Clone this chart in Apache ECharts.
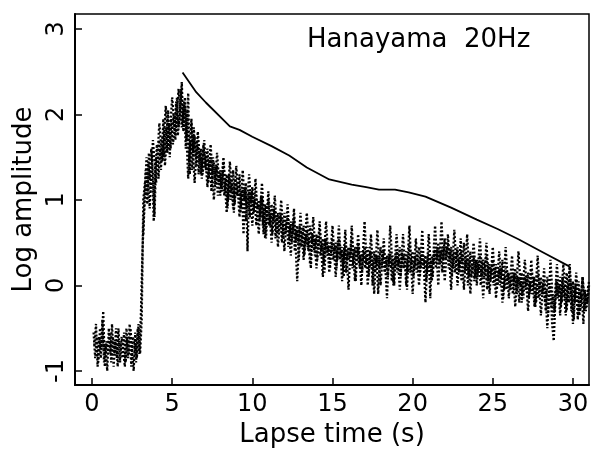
<!DOCTYPE html>
<html><head><meta charset="utf-8">
<script src="https://cdn.jsdelivr.net/npm/echarts@6/dist/echarts.min.js"></script>
<style>html,body{margin:0;padding:0;background:#fff}#c{width:593px;height:457px}</style>
</head><body><div id="c"></div>
<script>
// Coda envelope (solid line)
const modelTime = [5.65, 6.5, 7.1, 8.6, 9.2, 10.0, 11.2, 12.3, 13.4, 14.8, 16.2, 17.1, 17.9, 18.9, 19.75, 20.8, 22.4, 24.0, 25.3, 26.6, 28.2, 29.8];
const modelAmp  = [2.49, 2.26, 2.14, 1.86, 1.82, 1.74, 1.63, 1.52, 1.38, 1.24, 1.18, 1.15, 1.12, 1.12, 1.09, 1.04, 0.91, 0.77, 0.66, 0.54, 0.38, 0.22];
// Observed log amplitude, trace A (dotted), every 0.1 s from 0.1 s
const obsStartA = 0.1, obsStepA = 0.1;
const obsAmpA = [
 -0.55,-0.85,-0.6,-0.9,-0.5,-0.75,-0.3,-0.95,-0.65,-0.8,
 -0.55,-0.9,-0.6,-0.8,-0.5,-0.95,-0.65,-0.7,-0.85,-0.55,
 -0.9,-0.6,-0.8,-0.5,-0.75,-1.0,-0.55,-0.85,-0.45,-0.8,
 -0.4,1.0,1.2,1.05,1.45,1.25,1.6,1.3,0.8,1.5,
 1.4,1.7,1.35,1.75,1.5,1.85,1.55,1.9,1.6,1.8,
 2.0,1.7,2.2,1.85,2.05,2.38,1.8,2.1,1.7,2.25,
 1.3,1.9,1.55,1.75,1.4,1.65,1.45,1.6,1.3,1.55,
 1.35,1.6,1.25,1.5,1.3,1.45,1.15,1.4,1.2,1.35,
 1.1,1.45,1.15,1.3,1.0,1.25,1.1,1.35,0.95,1.2,
 1.05,1.3,0.9,1.15,1.0,1.2,0.4,1.1,0.95,1.15,
 0.85,1.1,0.9,1.0,0.8,1.05,0.6,0.95,0.8,1.0,
 0.7,0.95,0.75,0.9,0.65,0.85,0.7,0.8,0.55,0.85,
 0.65,0.8,0.55,0.75,0.6,0.8,0.5,0.7,0.3,0.65,
 0.55,0.7,0.5,0.65,0.4,0.7,0.5,0.6,0.35,0.6,
 0.45,0.65,0.4,0.55,0.15,0.55,0.4,0.5,0.35,0.55,
 0.4,0.5,0.3,0.55,0.35,0.45,0.1,0.5,0.3,0.45,
 0.35,0.55,0.25,0.45,0.3,0.5,0.2,0.4,0.3,0.45,
 0.25,0.45,0.2,0.4,0.0,0.4,0.25,0.35,0.2,0.45,
 0.3,0.4,0.2,0.35,0.25,0.4,0.05,0.35,0.2,0.4,
 0.25,0.45,0.2,0.35,0.3,0.4,0.15,0.5,0.25,0.4,
 0.2,0.35,0.3,0.45,0.2,0.4,0.25,0.35,0.15,0.4,
 -0.15,0.35,0.25,0.45,0.3,0.5,0.25,0.45,0.3,0.55,
 0.35,0.5,0.3,0.45,0.2,0.4,0.3,0.45,0.15,0.4,
 0.25,0.5,0.2,0.35,0.1,0.4,0.2,0.35,0.1,0.3,
 0.15,0.35,0.1,0.3,0.2,0.35,0.05,0.25,0.15,0.3,
 0.1,0.25,0.0,0.2,0.1,0.3,-0.05,0.2,0.05,0.15,
 -0.05,0.15,0.05,0.2,-0.1,0.1,0.0,0.15,-0.15,0.1,
 0.0,0.15,-0.1,0.2,-0.05,0.1,-0.2,0.15,-0.05,0.1,
 -0.1,0.05,-0.3,0.1,-0.05,0.0,-0.45,-0.65,-0.2,0.05,
 -0.1,0.1,-0.2,0.0,-0.15,0.15,-0.05,0.25,-0.3,0.05,
 -0.2,0.05,-0.4,-0.05,-0.15,0.1,-0.3,-0.1,-0.2,0.0
];
// Observed log amplitude, trace B (dotted), every 0.1 s from 0.15 s
const obsStartB = 0.15, obsStepB = 0.1;
const obsAmpB = [
 -0.7,-0.45,-0.95,-0.6,-0.85,-0.4,-0.9,-0.7,-1.0,-0.5,
 -0.8,-0.45,-0.95,-0.65,-0.85,-0.5,-0.9,-0.6,-0.75,-0.95,
 -0.5,-0.85,-0.45,-0.95,-0.6,-0.7,-0.9,-0.5,-0.8,-0.35,
 0.4,0.9,1.35,0.95,1.55,1.1,1.4,0.75,1.35,1.65,
 1.25,1.6,1.45,1.95,1.4,1.7,2.05,1.5,1.95,1.65,
 1.85,2.15,1.75,1.95,2.3,1.9,2.15,1.6,2.05,1.45,
 1.7,1.35,1.85,1.5,1.7,1.3,1.55,1.25,1.65,1.4,
 1.5,1.2,1.45,1.1,1.5,1.25,1.4,1.05,1.3,1.15,
 1.35,1.05,1.25,0.9,1.3,1.0,1.2,0.85,1.25,1.05,
 1.2,0.85,1.1,0.6,1.15,0.9,1.05,0.8,1.1,0.85,
 1.0,0.7,0.95,0.75,1.05,0.7,0.9,0.55,0.85,0.7,
 0.85,0.6,0.9,0.55,0.8,0.6,0.85,0.5,0.75,0.6,
 0.75,0.45,0.7,0.5,0.75,0.4,0.65,0.5,0.7,0.45,
 0.65,0.35,0.6,0.45,0.55,0.2,0.6,0.4,0.55,0.3,
 0.55,0.35,0.5,0.25,0.55,0.35,0.45,0.2,0.5,0.3,
 0.45,0.2,0.5,0.3,0.4,0.25,0.45,0.15,0.4,0.3,
 0.45,0.2,0.4,0.05,0.45,0.25,0.35,0.15,0.4,0.2,
 0.35,0.1,0.4,0.2,0.3,0.15,0.35,-0.1,0.3,0.2,
 0.35,0.15,0.3,0.1,0.35,0.2,0.3,0.0,0.35,0.15,
 0.3,0.1,0.4,0.2,0.3,-0.05,0.35,0.15,0.3,0.1,
 0.35,0.15,0.3,0.1,0.35,0.2,0.3,0.05,0.35,0.2,
 0.3,0.1,0.4,0.2,0.45,0.25,0.4,0.15,0.45,0.3,
 0.45,0.2,0.4,0.1,0.35,0.15,0.4,0.2,0.3,0.05,
 0.35,0.15,0.3,0.0,0.3,0.1,0.25,0.05,0.3,0.1,
 0.25,0.0,0.3,0.1,0.2,-0.05,0.25,0.05,0.2,0.0,
 0.2,-0.05,0.15,0.0,0.2,-0.15,0.1,-0.05,0.15,0.0,
 0.1,-0.1,0.15,-0.05,0.1,-0.2,0.05,-0.1,0.1,-0.05,
 0.1,-0.15,0.05,-0.1,0.1,-0.25,0.0,-0.15,0.05,-0.1,
 0.0,-0.2,-0.05,-0.35,0.0,-0.25,-0.1,-0.3,0.05,-0.15,
 0.0,-0.25,0.1,-0.1,-0.35,0.0,-0.2,0.05,-0.15,-0.4,
 0.0,-0.2,0.05,-0.3,-0.1,-0.45,-0.05,-0.25,0.0
];
// Observed log amplitude, trace C (dotted, wider scatter), every 0.2 s from 3.2 s
const obsStartC = 3.2, obsStepC = 0.2;
const obsAmpC = [
 0.6,1.5,0.9,1.7,1.2,1.9,1.45,2.1,1.6,2.2,
 1.75,2.3,1.85,2.2,1.25,1.95,1.2,1.8,1.3,1.7,
 1.15,1.65,1.0,1.55,1.05,1.5,0.85,1.45,0.9,1.4,
 0.8,1.35,0.75,1.3,0.7,1.25,0.6,1.2,0.55,1.1,
 0.5,1.05,0.45,1.0,0.4,0.95,0.35,0.9,0.05,0.85,
 0.3,0.85,0.25,0.8,0.2,0.75,0.1,0.75,0.15,0.7,
 0.1,0.7,0.05,0.65,-0.05,0.7,0.05,0.6,0.0,0.75,
 0.0,0.6,-0.1,0.65,0.0,0.55,-0.15,0.7,0.0,0.6,
 -0.05,0.6,0.0,0.7,-0.1,0.55,0.0,0.65,-0.2,0.6,
 0.05,0.7,0.0,0.75,0.05,0.6,-0.05,0.65,0.0,0.55,
 -0.05,0.6,-0.1,0.5,0.0,0.55,-0.15,0.5,-0.1,0.45,
 -0.15,0.4,-0.2,0.45,-0.15,0.35,-0.25,0.4,-0.2,0.3,
 -0.3,0.3,-0.25,0.35,-0.35,0.2,-0.5,0.3,-0.4,0.25,
 -0.35,0.25,-0.3,0.2,-0.45,0.15,-0.35,0.1,-0.3,0.05
];
const xTicks = [0, 5, 10, 15, 20, 25, 30];
const yTicks = [-1, 0, 1, 2, 3];
const titleText = 'Hanayama  20Hz';
const xName = 'Lapse time (s)';
const yName = 'Log amplitude';

const toPairs = (start, step, arr) => arr.map((v, i) => [+(start + i * step).toFixed(2), v]);
const obsDataA = toPairs(obsStartA, obsStepA, obsAmpA);
const obsDataB = toPairs(obsStartB, obsStepB, obsAmpB);
const obsDataC = toPairs(obsStartC, obsStepC, obsAmpC);
const modelData = modelTime.map((t, i) => [t, modelAmp[i]]);
const FONT = 'DejaVu Sans';
const dotted = {color: '#000', width: 2.3, type: [2, 2]};
const chart = echarts.init(document.getElementById('c'), null, {renderer: 'canvas'});
chart.setOption({
  animation: false,
  backgroundColor: '#fff',
  title: {text: titleText, left: 302, top: 22, textStyle: {fontFamily: FONT, fontSize: 26, fontWeight: 'normal', color: '#000'}},
  grid: {left: 75, right: 4, top: 14, bottom: 72, show: true, borderColor: '#000', borderWidth: 1.5, backgroundColor: 'transparent'},
  xAxis: {
    type: 'value', min: -1.06, max: 31,
    name: xName, nameLocation: 'middle', nameGap: 37,
    nameTextStyle: {fontFamily: FONT, fontSize: 26, color: '#000'},
    axisLine: {show: true, onZero: false, lineStyle: {color: '#000', width: 2}},
    axisTick: {show: true, inside: true, length: 7, customValues: xTicks, lineStyle: {color: '#000', width: 1.5}},
    axisLabel: {customValues: xTicks, margin: 8, fontFamily: FONT, fontSize: 24, color: '#000'},
    splitLine: {show: false}
  },
  yAxis: {
    type: 'value', min: -1.164, max: 3.175,
    name: yName, nameLocation: 'middle', nameGap: 37, nameRotate: 90,
    nameTextStyle: {fontFamily: FONT, fontSize: 26, color: '#000'},
    axisLine: {show: true, onZero: false, lineStyle: {color: '#000', width: 2}},
    axisTick: {show: true, inside: true, length: 7, customValues: yTicks, lineStyle: {color: '#000', width: 1.5}},
    axisLabel: {customValues: yTicks, rotate: 90, margin: 6, fontFamily: FONT, fontSize: 24, color: '#000'},
    splitLine: {show: false}
  },
  series: [
    {type: 'line', data: obsDataA, showSymbol: false, symbol: 'none', clip: true, lineStyle: dotted},
    {type: 'line', data: obsDataB, showSymbol: false, symbol: 'none', clip: true, lineStyle: dotted},
    {type: 'line', data: obsDataC, showSymbol: false, symbol: 'none', clip: true, lineStyle: dotted},
    {type: 'line', data: modelData, showSymbol: false, symbol: 'none', lineStyle: {color: '#000', width: 1.8}}
  ]
});
</script></body></html>
